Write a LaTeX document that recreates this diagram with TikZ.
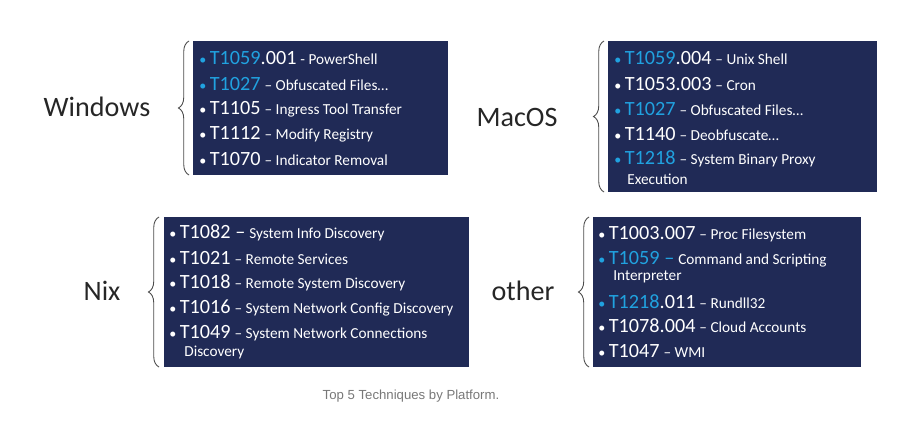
\documentclass[tikz,border=0pt]{standalone}
\usepackage{fontspec}
\setmainfont{Carlito}
\newfontfamily\capfont{Liberation Sans}
\usetikzlibrary{decorations.pathreplacing}
\definecolor{navy}{RGB}{32,42,86}
\definecolor{code}{RGB}{32,162,224}
\definecolor{capgray}{RGB}{120,120,120}
\newcommand{\bl}{{\fontsize{8}{9}\selectfont\textbullet}\hspace{2pt}}
\newcommand{\cw}[1]{{\fontsize{11.5}{12}\selectfont #1}}
\newcommand{\cb}[1]{{\fontsize{11.5}{12}\selectfont\color{code}#1}}
\newcommand{\ds}[1]{{\fontsize{8.7}{9.5}\selectfont #1}}
\begin{document}
\begin{tikzpicture}[x=0.02cm,y=-0.02cm,
  box/.style={fill=navy,draw=none},
  item/.style={anchor=west,text=white,inner sep=0pt,align=left},
  plat/.style={font=\fontsize{16}{18}\selectfont,text=black!85},
  brace/.style={decorate,decoration={brace,amplitude=6pt,mirror},draw=black!70,line width=0.5pt}]
\useasboundingbox (0,0) rectangle (909,436);
% boxes
\fill[box] (193,41) rectangle (448,175);
\fill[box] (608,41) rectangle (877,192);
\fill[box] (164,217) rectangle (469,367);
\fill[box] (593,217) rectangle (861,367);
% braces
\draw[brace] (189,41) -- (189,175);
\draw[brace] (604,41) -- (604,192);
\draw[brace] (159,217) -- (159,367);
\draw[brace] (589,217) -- (589,367);
% platform labels
\node[plat] (win) at (97,107) {Windows};
\node[plat] (mac) at (517,117) {MacOS};
\node[plat] (nix) at (102,291) {Nix};
\node[plat] (oth) at (523,291) {other};
% Windows
\node[item] (w1) at (199,58) {\cb{\bl T1059}\cw{.001} \ds{- PowerShell}};
\node[item] (w2) at (199,84) {\cb{\bl T1027} \ds{-- Obfuscated Files…}};
\node[item] (w3) at (199,109) {\cw{\bl T1105} \ds{-- Ingress Tool Transfer}};
\node[item] (w4) at (199,134) {\cw{\bl T1112} \ds{-- Modify Registry}};
\node[item] (w5) at (199,159) {\cw{\bl T1070} \ds{-- Indicator Removal}};
% MacOS
\node[item] (m1) at (614,58) {\cb{\bl T1059}\cw{.004} \ds{-- Unix Shell}};
\node[item] (m2) at (614,84) {\cw{\bl T1053.003} \ds{-- Cron}};
\node[item] (m3) at (614,109) {\cb{\bl T1027} \ds{-- Obfuscated Files…}};
\node[item] (m4) at (614,134) {\cw{\bl T1140} \ds{-- Deobfuscate…}};
\node[item] (m5) at (614,159) {\cb{\bl T1218} \ds{-- System Binary Proxy}};
\node[item] (m6) at (627,179) {\ds{Execution}};
% Nix
\node[item] (n1) at (169,233) {\cw{\bl T1082 --} \ds{System Info Discovery}};
\node[item] (n2) at (169,258) {\cw{\bl T1021} \ds{-- Remote Services}};
\node[item] (n3) at (169,283) {\cw{\bl T1018} \ds{-- Remote System Discovery}};
\node[item] (n4) at (169,308) {\cw{\bl T1016} \ds{-- System Network Config Discovery}};
\node[item] (n5) at (169,333) {\cw{\bl T1049} \ds{-- System Network Connections}};
\node[item] (n6) at (184,352) {\ds{Discovery}};
% other
\node[item] (o1) at (598,234) {\cw{\bl T1003.007} \ds{-- Proc Filesystem}};
\node[item] (o2) at (598,259) {\cb{\bl T1059 --} \ds{Command and Scripting}};
\node[item] (o3) at (613,277) {\ds{Interpreter}};
\node[item] (o4) at (598,302) {\cb{\bl T1218}\cw{.011} \ds{-- Rundll32}};
\node[item] (o5) at (598,326) {\cw{\bl T1078.004} \ds{-- Cloud Accounts}};
\node[item] (o6) at (598,351) {\cw{\bl T1047} \ds{-- WMI}};
% caption
\node[font=\capfont\fontsize{7.5}{9}\selectfont,text=capgray] (cap) at (411,396) {Top 5 Techniques by Platform.};
\end{tikzpicture}
\end{document}
